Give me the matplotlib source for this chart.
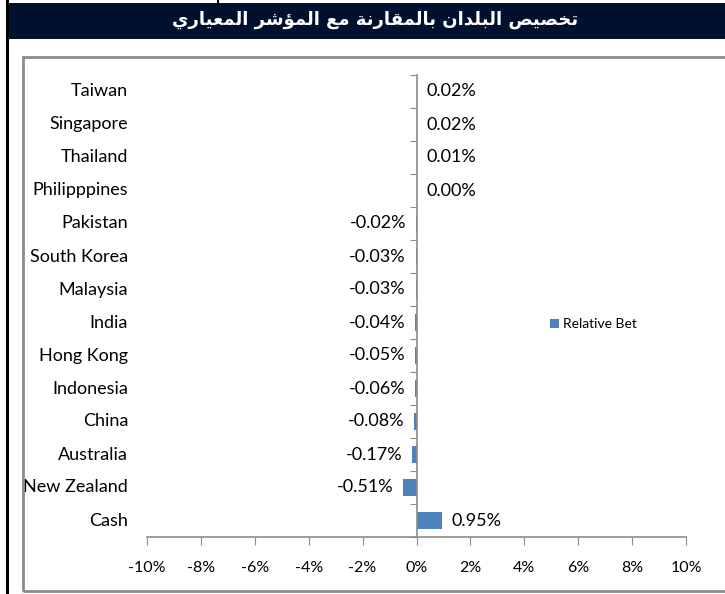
import matplotlib
matplotlib.use('Agg')
import matplotlib.pyplot as plt
from matplotlib.patches import Rectangle
from matplotlib.lines import Line2D

# data, bottom to top as drawn
countries = ['Cash', 'New Zealand', 'Australia', 'China', 'Indonesia', 'Hong Kong',
             'India', 'Malaysia', 'South Korea', 'Pakistan', 'Philipppines',
             'Thailand', 'Singapore', 'Taiwan']
relative_bet = [0.95, -0.51, -0.17, -0.08, -0.06, -0.05, -0.04, -0.03, -0.03,
                -0.02, 0.00, 0.01, 0.02, 0.02]
xticks = [-10, -8, -6, -4, -2, 0, 2, 4, 6, 8, 10]
title = 'تخصيص البلدان بالمقارنة مع المؤشر المعياري'
series_name = 'Relative Bet'

# small arabic shaper: (isolated, final, initial, medial)
forms = {
	'ا': (0xFE8D, 0xFE8E, None, None),
	'ب': (0xFE8F, 0xFE90, 0xFE91, 0xFE92),
	'ة': (0xFE93, 0xFE94, None, None),
	'ت': (0xFE95, 0xFE96, 0xFE97, 0xFE98),
	'خ': (0xFEA5, 0xFEA6, 0xFEA7, 0xFEA8),
	'د': (0xFEA9, 0xFEAA, None, None),
	'ر': (0xFEAD, 0xFEAE, None, None),
	'ش': (0xFEB5, 0xFEB6, 0xFEB7, 0xFEB8),
	'ص': (0xFEB9, 0xFEBA, 0xFEBB, 0xFEBC),
	'ع': (0xFEC9, 0xFECA, 0xFECB, 0xFECC),
	'ق': (0xFED5, 0xFED6, 0xFED7, 0xFED8),
	'ل': (0xFEDD, 0xFEDE, 0xFEDF, 0xFEE0),
	'م': (0xFEE1, 0xFEE2, 0xFEE3, 0xFEE4),
	'ن': (0xFEE5, 0xFEE6, 0xFEE7, 0xFEE8),
	'ي': (0xFEF1, 0xFEF2, 0xFEF3, 0xFEF4),
	'ؤ': (0xFE85, 0xFE86, None, None),
}

def shape(text):
	out = []
	for word in text.split(' '):
		w = ''
		for i, ch in enumerate(word):
			f = forms.get(ch)
			if f is None:
				w += ch
				continue
			prev = word[i-1] if i > 0 else None
			nxt = word[i+1] if i < len(word)-1 else None
			join_prev = prev in forms and forms[prev][2] is not None
			join_next = nxt in forms and f[2] is not None
			if join_prev and join_next:
				code = f[3]
			elif join_prev:
				code = f[1]
			elif join_next:
				code = f[2]
			else:
				code = f[0]
			w += chr(code)
		out.append(w[::-1])
	return ' '.join(out[::-1])

font = ['Lato', 'DejaVu Sans']
plt.rcParams['font.family'] = font

fig = plt.figure(figsize=(7.25, 5.94), dpi=100)
W, H = 725.0, 594.0

# frame decorations (pixel -> figure fraction)
fig.add_artist(Line2D([7/W, 7/W], [0, 1], color='black', lw=2.2))
fig.add_artist(Line2D([218/W, 218/W], [1, 1-4/H], color='black', lw=1.5))
fig.add_artist(Rectangle((8/W, 1-39/H), 1, 36/H, color='#00112F', lw=0))
fig.add_artist(Rectangle((23/W, 1-591/H), 1, (591-57)/H, fill=False,
                         edgecolor='#8C8C8C', lw=2))
fig.text(375/W, 1-20/H, shape(title), color='white', fontsize=13,
         fontweight='bold', ha='center', va='center', family='DejaVu Sans')

ax = fig.add_axes([147/W, 1-537/H, 539/W, 462/H])
y = list(range(len(countries)))
ax.barh(y, relative_bet, height=0.5, color='#4F81BD', label=series_name)
ax.set_xlim(-10, 10)
ax.set_ylim(-0.5, len(countries)-0.5)

for spine in ['top', 'right']:
	ax.spines[spine].set_visible(False)
ax.spines['left'].set_position(('data', 0))
ax.spines['left'].set_color('#8C8C8C')
ax.spines['bottom'].set_color('#8C8C8C')
ax.spines['left'].set_linewidth(1.2)
ax.spines['bottom'].set_linewidth(1.2)

ax.set_xticks(xticks)
ax.set_xticklabels([str(t) + '%' for t in xticks])
ax.tick_params(axis='x', length=6, color='#8C8C8C', labelsize=11.5, pad=11)
ax.set_yticks([i - 0.5 for i in range(len(countries)+1)])
ax.set_yticklabels([])
ax.tick_params(axis='y', length=5, color='#8C8C8C')

for i, name in enumerate(countries):
	ax.text(-0.035, i, name, transform=ax.get_yaxis_transform(), ha='right',
	        va='center', fontsize=13)

for i, v in enumerate(relative_bet):
	if v < 0:
		ax.annotate('%.2f%%' % v, (v, i), xytext=(-7, 0), textcoords='offset points',
		            ha='right', va='center', fontsize=13)
	else:
		ax.annotate('%.2f%%' % v, (v, i), xytext=(7, 0), textcoords='offset points',
		            ha='left', va='center', fontsize=13)

ax.legend(loc='center left', bbox_to_anchor=(0.725, 0.461), frameon=False,
          fontsize=10, handlelength=0.6, handleheight=0.6, handletextpad=0.3)

fig.savefig('out.png', dpi=100)
